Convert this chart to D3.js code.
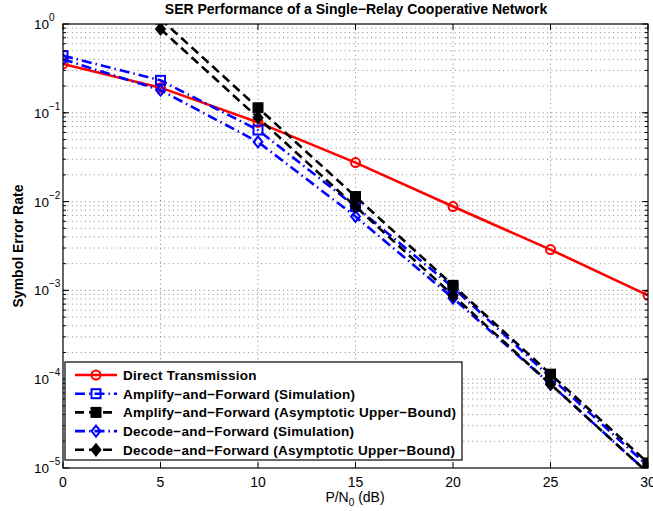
<!DOCTYPE html>
<html>
<head>
<meta charset="utf-8">
<script src="https://cdn.jsdelivr.net/npm/d3@7"></script>
<style>
  html, body { margin: 0; padding: 0; background: #fff; }
  svg { display: block; font-family: "Liberation Sans", Arial, Helvetica, sans-serif; }
</style>
</head>
<body>
<svg id="chart" width="653" height="511"></svg>
<script>
// SNR points (dB)
const snr = [0, 5, 10, 15, 20, 25, 30];

// Symbol error rate for each scheme (null = not evaluated)
const direct     = [0.355, 0.192, 0.078, 0.0275, 0.0088, 0.00288, 0.00088];
const afSim      = [0.44, 0.232, 0.064, 0.0088, 0.00108, 0.000105, 0.0000105];
const afBound    = [null, 1.14, 0.114, 0.0114, 0.00114, 0.000114, 0.0000114];
const dfSim      = [0.40, 0.180, 0.047, 0.0068, 0.00082, 0.000088, 0.0000088];
const dfBound    = [null, 0.88, 0.088, 0.0088, 0.00088, 0.000088, 0.0000088];

const seriesNames = [
  "Direct Transmission",
  "Amplify\u2212and\u2212Forward (Simulation)",
  "Amplify\u2212and\u2212Forward (Asymptotic Upper\u2212Bound)",
  "Decode\u2212and\u2212Forward (Simulation)",
  "Decode\u2212and\u2212Forward (Asymptotic Upper\u2212Bound)"
];

const xTicks = [0, 5, 10, 15, 20, 25, 30];
const yExponents = [0, -1, -2, -3, -4, -5];

const titleText = "SER Performance of a Single\u2212Relay Cooperative Network";
const yLabelText = "Symbol Error Rate";

// line / marker styles per series
const styles = [
  { values: direct,  color: "#ff0000", dash: null,           marker: "circle",  fill: "none" },
  { values: afSim,   color: "#0000ff", dash: "10,4,1.5,4",   marker: "square",  fill: "none" },
  { values: afBound, color: "#000000", dash: "9,5",          marker: "square",  fill: "#000" },
  { values: dfSim,   color: "#0000ff", dash: "10,4,1.5,4",   marker: "diamond", fill: "none" },
  { values: dfBound, color: "#000000", dash: "9,5",          marker: "diamond", fill: "#000" }
];

const svg = d3.select("#chart");
const pLeft = 63, pRight = 648, pTop = 24, pBottom = 468;

const x = d3.scaleLinear().domain([0, 30]).range([pLeft, pRight]);
const y = d3.scaleLog().domain([1e-5, 1]).range([pBottom, pTop]);

// grid
const grid = svg.append("g").attr("stroke", "#6a6a6a").attr("stroke-width", 0.8)
  .attr("stroke-dasharray", "1,3.4").attr("fill", "none");
xTicks.slice(1, -1).forEach(t => {
  grid.append("line").attr("x1", x(t)).attr("x2", x(t)).attr("y1", pTop).attr("y2", pBottom);
});
const yMinor = [];
for (let e = -5; e < 0; e++) {
  for (let m = 1; m <= 9; m++) {
    const v = m * Math.pow(10, e);
    if (v > 1e-5 && v < 1) yMinor.push(v);
  }
}
yMinor.forEach(v => {
  grid.append("line").attr("x1", pLeft).attr("x2", pRight).attr("y1", y(v)).attr("y2", y(v));
});

// clip region for data
svg.append("clipPath").attr("id", "plotClip").append("rect")
  .attr("x", pLeft).attr("y", pTop).attr("width", pRight - pLeft).attr("height", pBottom - pTop);

const data = svg.append("g").attr("clip-path", "url(#plotClip)");
const line = d3.line().defined(d => d != null).x((d, i) => x(snr[i])).y(d => y(d));

function drawMarker(g, type, cx, cy, color, fill) {
  if (type === "circle") {
    g.append("circle").attr("cx", cx).attr("cy", cy).attr("r", 4.5)
      .attr("fill", fill).attr("stroke", color).attr("stroke-width", 2);
  } else if (type === "square") {
    g.append("rect").attr("x", cx - 4.5).attr("y", cy - 4.5).attr("width", 9).attr("height", 9)
      .attr("fill", fill).attr("stroke", color).attr("stroke-width", 2);
  } else {
    const r = 5.5;
    g.append("path").attr("d", `M${cx},${cy - r}L${cx + r * 0.8},${cy}L${cx},${cy + r}L${cx - r * 0.8},${cy}Z`)
      .attr("fill", fill).attr("stroke", color).attr("stroke-width", 2);
  }
}

styles.forEach(s => {
  const g = data.append("g");
  g.append("path").datum(s.values).attr("d", line)
    .attr("fill", "none").attr("stroke", s.color).attr("stroke-width", 2.6)
    .attr("stroke-dasharray", s.dash);
  s.values.forEach((v, i) => {
    if (v != null) drawMarker(g, s.marker, x(snr[i]), y(v), s.color, s.fill);
  });
});

// axes box
svg.append("rect").attr("x", pLeft).attr("y", pTop).attr("width", pRight - pLeft).attr("height", pBottom - pTop)
  .attr("fill", "none").attr("stroke", "#000").attr("stroke-width", 1.2);

// ticks (inward on all sides)
const ticks = svg.append("g").attr("stroke", "#000").attr("stroke-width", 1);
xTicks.forEach(t => {
  ticks.append("line").attr("x1", x(t)).attr("x2", x(t)).attr("y1", pBottom).attr("y2", pBottom - 6);
  ticks.append("line").attr("x1", x(t)).attr("x2", x(t)).attr("y1", pTop).attr("y2", pTop + 6);
});
yExponents.forEach(e => {
  const py = y(Math.pow(10, e));
  ticks.append("line").attr("x1", pLeft).attr("x2", pLeft + 6).attr("y1", py).attr("y2", py);
  ticks.append("line").attr("x1", pRight).attr("x2", pRight - 6).attr("y1", py).attr("y2", py);
});
yMinor.forEach(v => {
  const py = y(v);
  ticks.append("line").attr("x1", pLeft).attr("x2", pLeft + 3).attr("y1", py).attr("y2", py);
  ticks.append("line").attr("x1", pRight).attr("x2", pRight - 3).attr("y1", py).attr("y2", py);
});

// tick labels
xTicks.forEach(t => {
  svg.append("text").attr("x", x(t)).attr("y", pBottom + 19).attr("text-anchor", "middle")
    .attr("font-size", 14).text(t);
});
yExponents.forEach(e => {
  const py = y(Math.pow(10, e));
  const t = svg.append("text").attr("x", 34).attr("y", py + 5).attr("font-size", 13.5);
  t.append("tspan").text("10");
  t.append("tspan").attr("dy", -8).attr("font-size", 10).text(e === 0 ? "0" : "\u2212" + Math.abs(e));
});

// title and axis labels
svg.append("text").attr("x", 356).attr("y", 14).attr("text-anchor", "middle")
  .attr("font-size", 14).attr("font-weight", "bold").text(titleText);

const xl = svg.append("text").attr("x", 355).attr("y", 502).attr("text-anchor", "middle").attr("font-size", 14);
xl.append("tspan").text("P/N");
xl.append("tspan").attr("dy", 4).attr("font-size", 10).text("0");
xl.append("tspan").attr("dy", -4).text(" (dB)");

svg.append("text").attr("transform", `translate(23,${(pTop + pBottom) / 2}) rotate(-90)`)
  .attr("text-anchor", "middle").attr("font-size", 14).attr("font-weight", "bold").text(yLabelText);

// legend
const lg = svg.append("g");
lg.append("rect").attr("x", 65).attr("y", 362).attr("width", 397).attr("height", 98)
  .attr("fill", "#fff").attr("stroke", "#000").attr("stroke-width", 1.2);
styles.forEach((s, i) => {
  const cy = 375 + i * 18.7;
  lg.append("line").attr("x1", 75).attr("x2", 117).attr("y1", cy).attr("y2", cy)
    .attr("stroke", s.color).attr("stroke-width", 2.6).attr("stroke-dasharray", s.dash);
  drawMarker(lg, s.marker, 96, cy, s.color, s.fill);
  lg.append("text").attr("x", 123).attr("y", cy + 5).attr("font-size", 13.5).attr("font-weight", "bold")
    .attr("letter-spacing", 0.25).text(seriesNames[i]);
});
</script>
</body>
</html>
